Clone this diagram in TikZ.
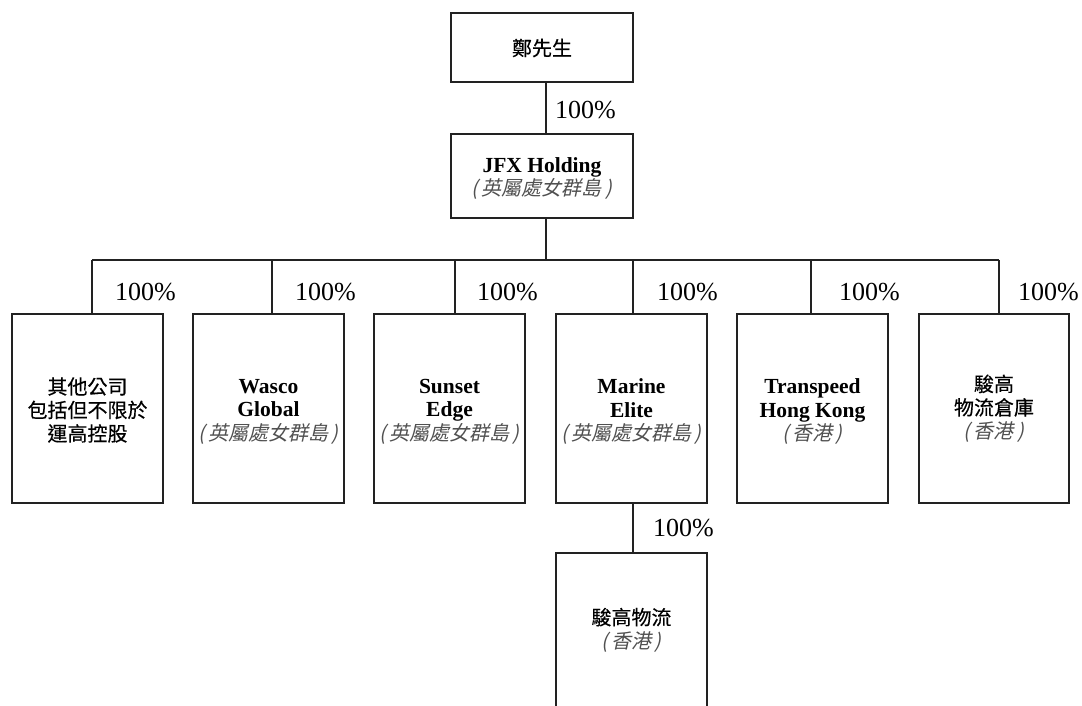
\documentclass[tikz,border=0pt]{standalone}
\usepackage{fontspec}
\setmainfont{Liberation Serif}
\newfontfamily\cjk[FakeBold=0.35]{Noto Sans CJK TC}
\newfontfamily\cjksl[FakeSlant=0.22]{Noto Sans CJK TC}
\definecolor{lineclr}{HTML}{222222}
\definecolor{paren}{HTML}{505050}
\newcommand{\bvi}{\textcolor{paren}{\fontsize{20}{23.5}\cjksl(\,英屬處女群島\,)}}
\newcommand{\hkg}{\textcolor{paren}{\fontsize{20}{23.5}\cjksl(\,香港\,)}}
\newcommand{\cj}{\fontsize{20}{23.5}\cjk}
\begin{document}
\begin{tikzpicture}[x=1pt,y=-1pt,
  entity/.style={draw=lineclr, line width=1.1pt, inner sep=0pt},
  txt/.style={inner sep=0pt, align=center,
    font=\fontsize{21.5}{23.5}\selectfont, text=black},
  pct/.style={anchor=west, inner sep=0pt, font=\fontsize{26}{26}\selectfont},
  conn/.style={draw=lineclr, line width=1.1pt}]
\useasboundingbox (0,0) rectangle (1082,705);
% boxes
\node[entity, minimum width=182pt, minimum height=69pt] (top) at (542,47.5) {};
\node[entity, minimum width=182pt, minimum height=84pt] (jfx) at (542,176) {};
\node[entity, minimum width=151pt, minimum height=189pt] (b1) at (87.5,408.5) {};
\node[entity, minimum width=151pt, minimum height=189pt] (b2) at (268.5,408.5) {};
\node[entity, minimum width=151pt, minimum height=189pt] (b3) at (449.5,408.5) {};
\node[entity, minimum width=151pt, minimum height=189pt] (b4) at (631.5,408.5) {};
\node[entity, minimum width=151pt, minimum height=189pt] (b5) at (812.5,408.5) {};
\node[entity, minimum width=150pt, minimum height=189pt] (b6) at (994,408.5) {};
\node[entity, minimum width=151pt, minimum height=154pt] (b7) at (631.5,630) {};
% texts
\node[txt] (ttop) at ([yshift=-0.5pt]top.center) {\cj 鄭先生};
\node[txt] (tjfx) at ([yshift=-2.5pt]jfx.center) {\textbf{JFX Holding}\\\bvi};
\node[txt] (t1) at ([yshift=-1.5pt]b1.center) {\cj 其他公司\\\cj 包括但不限於\\\cj 運高控股};
\node[txt] (t2) at ([yshift=-3pt]b2.center) {\textbf{Wasco}\\\textbf{Global}\\\bvi};
\node[txt] (t3) at ([yshift=-3pt]b3.center) {\textbf{Sunset}\\\textbf{Edge}\\\bvi};
\node[txt] (t4) at ([yshift=-3pt]b4.center) {\textbf{Marine}\\\textbf{Elite}\\\bvi};
\node[txt] (t5) at ([yshift=-3pt]b5.center) {\textbf{Transpeed}\\\textbf{Hong Kong}\\\hkg};
\node[txt] (t6) at ([yshift=0pt]b6.center) {\cj 駿高\\\cj 物流倉庫\\\hkg};
\node[txt] (t7) at ([yshift=0pt]b7.center) {\cj 駿高物流\\\hkg};
% connectors
\coordinate (v) at (546,0);
\draw[conn] (top.south -| v) -- (jfx.north -| v);
\coordinate (d1) at (92,260);
\coordinate (d2) at (272,260);
\coordinate (d3) at (455,260);
\coordinate (d4) at (633,260);
\coordinate (d5) at (811,260);
\coordinate (d6) at (999,260);
\draw[conn] (jfx.south -| v) -- (v |- d1);
\draw[conn] (d1) -- (d6);
\draw[conn] (d1) -- (d1 |- b1.north);
\draw[conn] (d2) -- (d2 |- b2.north);
\draw[conn] (d3) -- (d3 |- b3.north);
\draw[conn] (d4) -- (d4 |- b4.north);
\draw[conn] (d5) -- (d5 |- b5.north);
\draw[conn] (d6) -- (d6 |- b6.north);
\coordinate (s) at (633,0);
\draw[conn] (b4.south -| s) -- (b7.north -| s);
% labels
\node[pct] (p0) at (555,110) {100\%};
\node[pct] (p1) at (115,292) {100\%};
\node[pct] (p2) at (295,292) {100\%};
\node[pct] (p3) at (477,292) {100\%};
\node[pct] (p4) at (657,292) {100\%};
\node[pct] (p5) at (839,292) {100\%};
\node[pct] (p6) at (1018,292) {100\%};
\node[pct] (p7) at (653,528) {100\%};
\end{tikzpicture}
\end{document}
